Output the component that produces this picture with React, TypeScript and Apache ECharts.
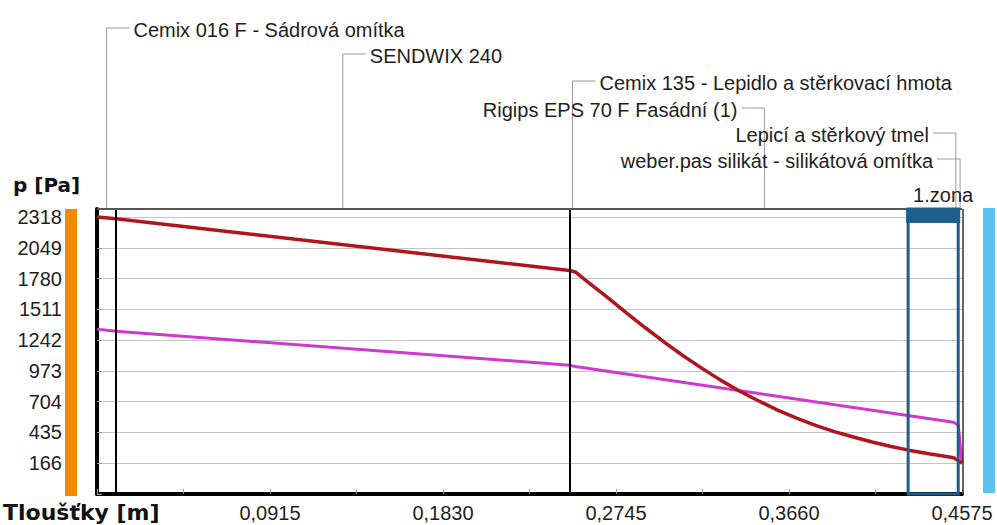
import React, { useEffect, useRef } from "react";
import * as echarts from "echarts";

// ---- data ----
const xMax = 0.4575;
const xTickStep = 0.04575;
const xLabelValues = [0.0915, 0.183, 0.2745, 0.366, 0.4575];
const yLabelValues = [166, 435, 704, 973, 1242, 1511, 1780, 2049, 2318];
const yStep = 269;
const yMaxValue = 2388;

// saturated water vapour pressure (red)
const satX = [0, 0.01, 0.25, 0.253, 0.26, 0.27, 0.28, 0.29, 0.3, 0.31, 0.32, 0.33, 0.34, 0.35, 0.36, 0.37, 0.38, 0.39, 0.4, 0.41, 0.42, 0.43, 0.44, 0.45, 0.453, 0.4555, 0.4575];
const satP = [2318, 2303, 1850, 1838, 1745, 1615, 1480, 1350, 1225, 1105, 995, 890, 795, 710, 630, 560, 497, 442, 395, 352, 312, 278, 248, 222, 214, 190, 166];

// partial water vapour pressure (magenta)
const parX = [0, 0.01, 0.25, 0.253, 0.453, 0.4555, 0.4575];
const parP = [1338, 1320, 1023, 1012, 524, 500, 172];

// layers
const layerBounds = [0, 0.01, 0.25, 0.253, 0.453, 0.4555, 0.4575];
const layerNames = [
  "Cemix 016 F - Sádrová omítka",
  "SENDWIX 240",
  "Cemix 135 - Lepidlo a stěrkovací hmota",
  "Rigips EPS 70 F Fasádní (1)",
  "Lepicí a stěrkový tmel",
  "weber.pas silikát - silikátová omítka",
];
const zoneStart = 0.429;
const zoneEnd = 0.4555;
const zoneName = "1.zona";
const yAxisName = "p [Pa]";
const xAxisName = "Tloušťky [m]";

// ---- layout / style ----
const labelY = [28, 54, 81, 108, 133, 159];
const labelSide = [1, 1, 1, -1, -1, -1];
const FONT = "'Liberation Sans', Arial, sans-serif";
const BOLD = "'DejaVu Sans', sans-serif";
const TXT = "#1e1e1e";
const ZONE = "#1f5e8c";

const near = (v: number, arr: number[]) => arr.some((a) => Math.abs(a - v) < 1e-6);

export default function App() {
  const ref = useRef<HTMLDivElement>(null);
  useEffect(() => {
    document.body.style.margin = "0";
    const el = ref.current!;
    const chart = echarts.init(el, null, { renderer: "svg" });
    const yMin = yLabelValues[0] - yStep;

    chart.setOption({
      animation: false,
      backgroundColor: "#ffffff",
      grid: { left: 97, right: 35, top: 209, bottom: 31, containLabel: false },
      xAxis: {
        type: "value",
        min: 0,
        max: xMax,
        interval: xTickStep,
        axisLine: { show: true, onZero: false, lineStyle: { color: "#000", width: 4 } },
        axisTick: { show: true, inside: true, length: 5, lineStyle: { color: "#9a9a9a" } },
        axisLabel: {
          margin: 9,
          color: TXT,
          fontFamily: FONT,
          fontSize: 20,
          hideOverlap: false,
          formatter: (v: number) => (near(v, xLabelValues) ? v.toFixed(4).replace(".", ",") : ""),
        },
        splitLine: { show: false },
      },
      yAxis: {
        type: "value",
        min: yMin,
        max: yMaxValue,
        interval: yStep,
        axisLine: { show: true, onZero: false, lineStyle: { color: "#000", width: 4 } },
        axisTick: { show: true, inside: true, length: 5, lineStyle: { color: "#9a9a9a" } },
        axisLabel: {
          margin: 35,
          color: TXT,
          fontFamily: FONT,
          fontSize: 20,
          hideOverlap: false,
          formatter: (v: number) => (near(v, yLabelValues) ? String(Math.round(v)) : ""),
        },
        splitLine: { show: true, lineStyle: { color: "#c4c4c4", width: 1 } },
      },
      series: [
        {
          type: "line",
          name: "p",
          data: parX.map((x, i) => [x, parP[i]]),
          symbol: "none",
          lineStyle: { color: "#cf38cf", width: 3 },
          z: 3,
        },
        {
          type: "line",
          name: "p,sat",
          data: satX.map((x, i) => [x, satP[i]]),
          symbol: "none",
          lineStyle: { color: "#b0141c", width: 3.5 },
          z: 4,
          markLine: {
            silent: true,
            symbol: "none",
            label: { show: false },
            lineStyle: { color: "#000", width: 2, type: "solid" },
            data: layerBounds.slice(1, 4).map((x) => ({ xAxis: x })),
          },
        },
      ],
    });

    const px = (x: number, y: number) => chart.convertToPixel({ gridIndex: 0 }, [x, y]) as number[];
    const [xl, yt] = px(0, yMaxValue);
    const [xr, yb] = px(xMax, yMin);
    const [zl] = px(zoneStart, 0);
    const [zr] = px(zoneEnd, 0);

    const graphics: any[] = [];
    // side bars
    graphics.push({ type: "rect", shape: { x: 65, y: yt, width: 12, height: yb - yt + 2 }, style: { fill: "#f28a00" }, z: 1 });
    graphics.push({ type: "rect", shape: { x: 983, y: yt - 1, width: 12, height: yb - yt }, style: { fill: "#5ec2ee" }, z: 1 });
    // frame
    graphics.push({ type: "line", shape: { x1: xl, y1: yt, x2: xr, y2: yt }, style: { stroke: "#555", lineWidth: 2 }, z: 5 });
    graphics.push({ type: "line", shape: { x1: xr + 1, y1: yt, x2: xr + 1, y2: yb }, style: { stroke: "#333", lineWidth: 1.5 }, z: 5 });
    // condensation zone
    graphics.push({ type: "rect", shape: { x: zl, y: yt, width: zr - zl, height: yb - yt }, style: { fill: "none", stroke: ZONE, lineWidth: 3 }, z: 6 });
    graphics.push({ type: "rect", shape: { x: zl - 2, y: yt - 1, width: zr - zl + 4, height: 15 }, style: { fill: ZONE }, z: 6 });
    graphics.push({ type: "text", x: zl + 5, y: yt - 14, style: { text: zoneName, font: `20px ${FONT}`, fill: TXT, textVerticalAlign: "middle", textAlign: "left" }, z: 7 });

    // layer labels with leaders
    layerNames.forEach((name, i) => {
      const mid = (layerBounds[i] + layerBounds[i + 1]) / 2;
      const [mx] = px(mid, 0);
      const ly = labelY[i];
      const s = labelSide[i];
      const leadEnd = mx + s * 23;
      graphics.push({ type: "polyline", shape: { points: [[leadEnd, ly], [mx, ly], [mx, yt]] }, style: { stroke: "#9a9a9a", lineWidth: 1, fill: "none" }, z: 2 });
      graphics.push({
        type: "text",
        x: mx + s * 27,
        y: ly + 2,
        style: { text: name, font: `20px ${FONT}`, fill: TXT, textAlign: s > 0 ? "left" : "right", textVerticalAlign: "middle" },
        z: 3,
      });
    });

    // axis names
    graphics.push({ type: "text", x: 13, y: 185, style: { text: yAxisName, font: `bold 20px ${BOLD}`, fill: "#111", textVerticalAlign: "middle" }, z: 3 });
    graphics.push({ type: "text", x: 3, y: 512, style: { text: xAxisName, font: `bold 22px ${BOLD}`, fill: "#111", textVerticalAlign: "middle" }, z: 3 });

    chart.setOption({ graphic: graphics });

    return () => chart.dispose();
  }, []);
  return <div ref={ref} style={{ width: 997, height: 525 }} />;
}
